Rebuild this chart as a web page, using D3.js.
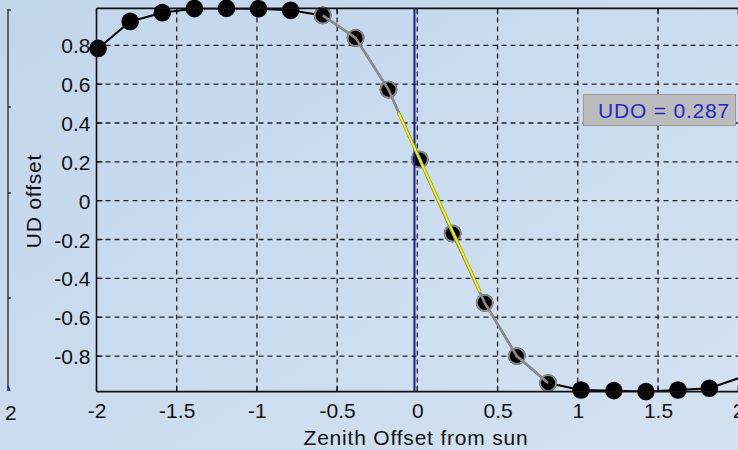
<!DOCTYPE html>
<html>
<head>
<meta charset="utf-8">
<script src="https://cdn.jsdelivr.net/npm/d3@7"></script>
<style>
  html, body { margin: 0; padding: 0; overflow: hidden; }
  svg { display: block; }
  text { font-family: "Liberation Sans", Arial, sans-serif; }
</style>
</head>
<body>
<svg id="chart" width="738" height="450"></svg>
<script>
// Scan samples: zenith offset from the sun vs. up/down offset
const zenithOffset = [-1.99, -1.79, -1.59, -1.39, -1.19, -0.99, -0.79, -0.59, -0.385, -0.18,
                      0.015, 0.22, 0.42, 0.62, 0.815, 1.02, 1.225, 1.425, 1.625, 1.82, 2.1];
const udOffset     = [0.784, 0.923, 0.968, 0.989, 0.990, 0.988, 0.980, 0.954, 0.838, 0.572,
                      0.212, -0.169, -0.526, -0.800, -0.939, -0.975, -0.978, -0.983, -0.975, -0.966, -0.886];
// Index range of the samples used for the centre fit
const fitRange = [7, 14];
// Linear fit segment through the central samples
const fitX = [-0.118, 0.391];
const fitY = [0.454, -0.469];
// Sun position marker
const sunX = -0.018;
const udoValue = 0.287;

const xLimits = [-2, 2];
const yLimits = [-0.983, 0.99];
const xTicks = [-2, -1.5, -1, -0.5, 0, 0.5, 1, 1.5, 2];
const xTickLabels = ["-2", "-1.5", "-1", "-0.5", "0", "0.5", "1", "1.5", "2"];
const yTicks = [-0.8, -0.6, -0.4, -0.2, 0, 0.2, 0.4, 0.6, 0.8];
const yTickLabels = ["-0.8", "-0.6", "-0.4", "-0.2", "0", "0.2", "0.4", "0.6", "0.8"];

(function () {
const svg = d3.select("#chart");
const W = 738, H = 450;
const pL = 96.5, pR = 738.2, pT = 8.4, pB = 391.6;

const x = d3.scaleLinear().domain(xLimits).range([pL, pR]);
const y = d3.scaleLinear().domain(yLimits).range([pB, pT]);

// Figure background
const defs = svg.append("defs");
const grad = defs.append("linearGradient").attr("id", "bg")
  .attr("x1", "0").attr("y1", "0").attr("x2", "1").attr("y2", "1");
grad.append("stop").attr("offset", "0").attr("stop-color", "#c2d6eb");
grad.append("stop").attr("offset", "1").attr("stop-color", "#d3e2f1");
svg.append("rect").attr("width", W).attr("height", H).attr("fill", "url(#bg)");

defs.append("clipPath").attr("id", "plotClip")
  .append("rect").attr("x", pL).attr("y", pT)
  .attr("width", pR - pL).attr("height", pB - pT);

// Neighbouring axis at the far left edge
const stub = svg.append("g");
stub.append("line").attr("x1", 8).attr("x2", 8).attr("y1", 9).attr("y2", 391)
  .attr("stroke", "#111").attr("stroke-width", 1.2);
[10, 107, 193, 298].forEach(v => {
  stub.append("line").attr("x1", 8).attr("x2", 11).attr("y1", v).attr("y2", v)
    .attr("stroke", "#111").attr("stroke-width", 1.2);
});
stub.append("line").attr("x1", 8).attr("x2", 10).attr("y1", 386).attr("y2", 391)
  .attr("stroke", "#2020a0").attr("stroke-width", 1.5);
stub.append("text").attr("x", 5).attr("y", 420).attr("font-size", 21)
  .attr("fill", "#111").text("2");

// Dashed grid
const grid = svg.append("g").attr("stroke", "#222").attr("stroke-width", 1.3)
  .attr("stroke-dasharray", "5,4");
xTicks.filter(t => t > xLimits[0] && t < xLimits[1]).forEach(t => {
  grid.append("line").attr("x1", x(t)).attr("x2", x(t)).attr("y1", pT).attr("y2", pB);
});
yTicks.forEach(t => {
  grid.append("line").attr("x1", pL).attr("x2", pR).attr("y1", y(t)).attr("y2", y(t));
});

// Axes with inward ticks
const xAxis = d3.axisBottom(x).tickValues(xTicks).tickSize(0).tickPadding(0)
  .tickFormat((d, i) => xTickLabels[i]);
const gx = svg.append("g").attr("transform", `translate(0,${pB})`).call(xAxis);
gx.select(".domain").remove();
gx.selectAll("text").attr("font-size", 21).attr("fill", "#111")
  .attr("font-family", "Liberation Sans, Arial, sans-serif")
  .attr("dy", null).attr("y", 26.5);

const yAxis = d3.axisLeft(y).tickValues(yTicks).tickSize(0).tickPadding(0)
  .tickFormat((d, i) => yTickLabels[i]);
const gy = svg.append("g").attr("transform", `translate(${pL},0)`).call(yAxis);
gy.select(".domain").remove();
gy.selectAll("text").attr("font-size", 21).attr("fill", "#111")
  .attr("font-family", "Liberation Sans, Arial, sans-serif")
  .attr("x", -6).attr("dy", "0.36em");

const tickG = svg.append("g").attr("stroke", "#111").attr("stroke-width", 1.2);
xTicks.forEach(t => {
  tickG.append("line").attr("x1", x(t)).attr("x2", x(t)).attr("y1", pB).attr("y2", pB - 6);
  tickG.append("line").attr("x1", x(t)).attr("x2", x(t)).attr("y1", pT).attr("y2", pT + 6);
});
yTicks.forEach(t => {
  tickG.append("line").attr("x1", pL).attr("x2", pL + 6).attr("y1", y(t)).attr("y2", y(t));
});

// Full scan: black line and markers
const line = d3.line().x(d => x(d[0])).y(d => y(d[1]));
const pts = zenithOffset.map((v, i) => [v, udOffset[i]]);
svg.append("path").datum(pts).attr("d", line).attr("fill", "none")
  .attr("stroke", "#000").attr("stroke-width", 2).attr("clip-path", "url(#plotClip)");
const visible = pts.filter(p => p[0] >= xLimits[0] && p[0] <= xLimits[1]);
svg.append("g").selectAll("circle").data(visible).join("circle")
  .attr("cx", d => x(d[0])).attr("cy", d => y(d[1])).attr("r", 8.8).attr("fill", "#000");

// Samples used for the fit: grey line and outlined markers
const fitPts = pts.slice(fitRange[0], fitRange[1] + 1);
svg.append("g").selectAll("circle").data(fitPts).join("circle")
  .attr("cx", d => x(d[0])).attr("cy", d => y(d[1])).attr("r", 8)
  .attr("fill", "#000").attr("stroke", "#8a8a8a").attr("stroke-width", 1.8);
svg.append("path").datum(fitPts).attr("d", line).attr("fill", "none")
  .attr("stroke", "#8c8c8c").attr("stroke-width", 2.6);

// Sun position
svg.append("line").attr("x1", x(sunX)).attr("x2", x(sunX)).attr("y1", pT).attr("y2", pB)
  .attr("stroke", "#1c1c8c").attr("stroke-width", 2);

// Fit segment
const seg = fitX.map((v, i) => [v, fitY[i]]);
svg.append("path").datum(seg).attr("d", line)
  .attr("fill", "none").attr("stroke", "#9a9a30").attr("stroke-width", 3.2);
svg.append("path").datum(seg).attr("d", line)
  .attr("fill", "none").attr("stroke", "#f4f41e").attr("stroke-width", 1.8);

// Axes frame
const frame = svg.append("g").attr("stroke", "#111").attr("stroke-width", 1.6).attr("fill", "none");
frame.append("line").attr("x1", pL).attr("x2", W).attr("y1", pT).attr("y2", pT);
frame.append("line").attr("x1", pL).attr("x2", W).attr("y1", pB).attr("y2", pB);
frame.append("line").attr("x1", pL).attr("x2", pL).attr("y1", pT).attr("y2", pB);

// Axis titles
svg.append("text").attr("x", 416).attr("y", 445).attr("text-anchor", "middle")
  .attr("font-size", 21).attr("letter-spacing", 0.8).attr("fill", "#111")
  .text("Zenith Offset from sun");
svg.append("text").attr("transform", "translate(40.5,201) rotate(-90)")
  .attr("text-anchor", "middle").attr("font-size", 21).attr("letter-spacing", 0.8)
  .attr("fill", "#111").text("UD offset");

// Result box
svg.append("rect").attr("x", 583.5).attr("y", 94.5).attr("width", 152).attr("height", 31)
  .attr("fill", "#bcbcbc").attr("stroke", "#9a9a9a").attr("stroke-width", 1);
svg.append("text").attr("x", 598).attr("y", 118).attr("font-size", 21)
  .attr("letter-spacing", 0.8).attr("fill", "#2626c8")
  .text("UDO = " + udoValue);
})();
</script>
</body>
</html>
